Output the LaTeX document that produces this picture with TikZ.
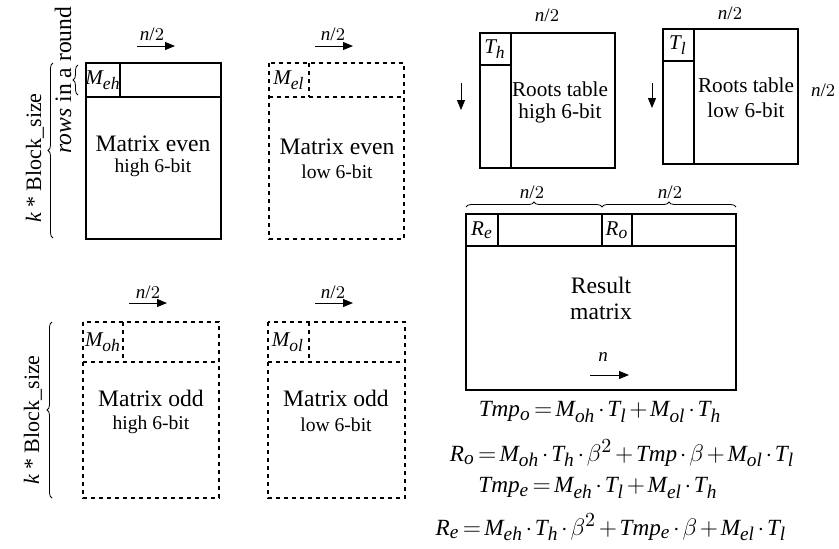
\documentclass[tikz,border=0pt]{standalone}
\usepackage{fontspec}
\setmainfont{Liberation Serif}
\usepackage[italic]{mathastext}
\usetikzlibrary{positioning,arrows.meta,decorations.pathreplacing}

\newcommand{\eqsp}{\medmuskip=2mu\relax\thickmuskip=2.5mu\relax}

\tikzset{
  mat/.style={line width=1pt},
  matdash/.style={line width=1pt, dash pattern=on 2pt off 2pt},
  arr/.style={-{Triangle[length=5pt,width=4pt]}, line width=0.5pt},
  brc/.style={decorate, decoration={brace, amplitude=2.5pt}, line width=0.4pt},
  big/.style={inner sep=0pt, font=\fontsize{11.8pt}{14pt}\selectfont},
  small/.style={inner sep=0pt, font=\fontsize{9.8pt}{12pt}\selectfont},
  roots/.style={inner sep=0pt, font=\fontsize{10.6pt}{12pt}\selectfont},
  dim/.style={inner sep=0pt, font=\fontsize{9.5pt}{11pt}\selectfont},
  cell/.style={inner sep=0pt, font=\fontsize{10.5pt}{12pt}\selectfont},
  side/.style={inner sep=0pt, rotate=90, font=\fontsize{11pt}{13pt}\selectfont},
  eqn/.style={inner sep=0pt, font=\fontsize{11.6pt}{14pt}\selectfont}
}

\begin{document}
\begin{tikzpicture}[x=0.5pt, y=-0.5pt]
\useasboundingbox (0,0) rectangle (839,548);

% matrix even, high
\draw[mat] (86,63) rectangle (221,239);
\draw[mat] (86,97) -- (221,97) (120,63) -- (120,97);
\node[cell] (meh) at (103,80) {$M_{eh}$};
\node[big] (meht) at (153,144) {Matrix even};
\node[small] (mehs) at (153,168) {high 6-bit};
\node[dim] (nA) at (152,34) {$n/2$};
\coordinate (aA1) at (137,46);
\coordinate (aA2) at (175,46);
\draw[arr] (aA1) -- (aA2);

% matrix even, low
\draw[matdash] (269,63) rectangle (404,239);
\draw[matdash] (269,97) -- (404,97) (309,63) -- (309,97);
\node[cell] (mel) at (289,80) {$M_{el}$};
\node[big] (melt) at (337,147) {Matrix even};
\node[small] (mels) at (337,172) {low 6-bit};
\node[dim] (nB) at (333,34) {$n/2$};
\coordinate (aB1) at (315,46);
\coordinate (aB2) at (353,46);
\draw[arr] (aB1) -- (aB2);

% braces, upper left
\coordinate (b1s) at (78,95);
\coordinate (b1e) at (78,65);
\draw[brc] (b1s) -- (b1e);
\node[side, font=\fontsize{11.8pt}{13pt}\selectfont] (rows) at (63,80) {\emph{rows} in a round};
\coordinate (b2s) at (53,238);
\coordinate (b2e) at (53,63);
\draw[brc] (b2s) -- (b2e);
\node[side] (kb1) at (35,158) {$k$ * Block\_size};

% roots table, high
\draw[mat] (480,33) rectangle (615,168);
\draw[mat] (480,65) -- (511,65) (511,33) -- (511,168);
\node[cell] (th) at (495,49) {$T_h$};
\node[roots] (tht) at (560,89) {Roots table};
\node[roots] (ths) at (560,113) {high 6-bit};
\node[dim] (nC) at (547,15) {$n/2$};
\coordinate (aC1) at (461,83);
\coordinate (aC2) at (461,110);
\draw[arr] (aC1) -- (aC2);

% roots table, low
\draw[mat] (663,29) rectangle (798,164);
\draw[mat] (663,61) -- (694,61) (694,29) -- (694,164);
\node[cell] (tl) at (678,45) {$T_l$};
\node[roots] (tlt) at (746,85) {Roots table};
\node[roots] (tls) at (746,110) {low 6-bit};
\node[dim] (nD) at (730,13) {$n/2$};
\node[dim] (nE) at (823,90) {$n/2$};
\coordinate (aD1) at (652,83);
\coordinate (aD2) at (652,108);
\draw[arr] (aD1) -- (aD2);

% result matrix
\draw[mat] (466,214) rectangle (736,390);
\draw[mat] (466,246) -- (736,246) (498,214) -- (498,246)
  (602,214) -- (602,246) (632,214) -- (632,246);
\node[cell] (re) at (482,230) {$R_e$};
\node[cell] (ro) at (617,230) {$R_o$};
\coordinate (b3s) at (466,207);
\coordinate (b3m) at (602,207);
\coordinate (b3e) at (736,207);
\draw[brc] (b3s) -- (b3m);
\draw[brc] (b3m) -- (b3e);
\node[dim] (nF) at (532,192) {$n/2$};
\node[dim] (nG) at (670,192) {$n/2$};
\node[big] (rest) at (601,285) {Result};
\node[big] (resm) at (601,312) {matrix};
\node[dim] (nH) at (603,357) {$n$};
\coordinate (aH1) at (590,375);
\coordinate (aH2) at (629,375);
\draw[arr] (aH1) -- (aH2);

% matrix odd, high
\draw[matdash] (83,322) rectangle (219,498);
\draw[matdash] (83,362) -- (219,362) (123,322) -- (123,362);
\node[cell] (moh) at (103,342) {$M_{oh}$};
\node[big] (moht) at (151,398) {Matrix odd};
\node[small] (mohs) at (151,425) {high 6-bit};
\node[dim] (nI) at (148,292) {$n/2$};
\coordinate (aI1) at (129,303);
\coordinate (aI2) at (167,303);
\draw[arr] (aI1) -- (aI2);

% matrix odd, low
\draw[matdash] (268,322) rectangle (405,498);
\draw[matdash] (268,362) -- (405,362) (309,322) -- (309,362);
\node[cell] (mol) at (288,342) {$M_{ol}$};
\node[big] (molt) at (336,398) {Matrix odd};
\node[small] (mols) at (336,425) {low 6-bit};
\node[dim] (nJ) at (333,292) {$n/2$};
\coordinate (aJ1) at (315,303);
\coordinate (aJ2) at (353,303);
\draw[arr] (aJ1) -- (aJ2);

% brace, lower left
\coordinate (b4s) at (52,498);
\coordinate (b4e) at (52,322);
\draw[brc] (b4s) -- (b4e);
\node[side] (kb2) at (33,420) {$k$ * Block\_size};

% equations
\node[eqn] (eq1) at (600,412) {$\eqsp Tmp_o = M_{oh}\cdot T_l + M_{ol}\cdot T_h$};
\node[eqn] (eq2) at (622,453) {$\eqsp R_o = M_{oh}\cdot T_h\cdot \beta^2 + Tmp\cdot \beta + M_{ol}\cdot T_l$};
\node[eqn] (eq3) at (598,488) {$\eqsp Tmp_e = M_{eh}\cdot T_l + M_{el}\cdot T_h$};
\node[eqn] (eq4) at (611,527) {$\eqsp R_e = M_{eh}\cdot T_h\cdot \beta^2 + Tmp_e\cdot \beta + M_{el}\cdot T_l$};

\end{tikzpicture}
\end{document}
